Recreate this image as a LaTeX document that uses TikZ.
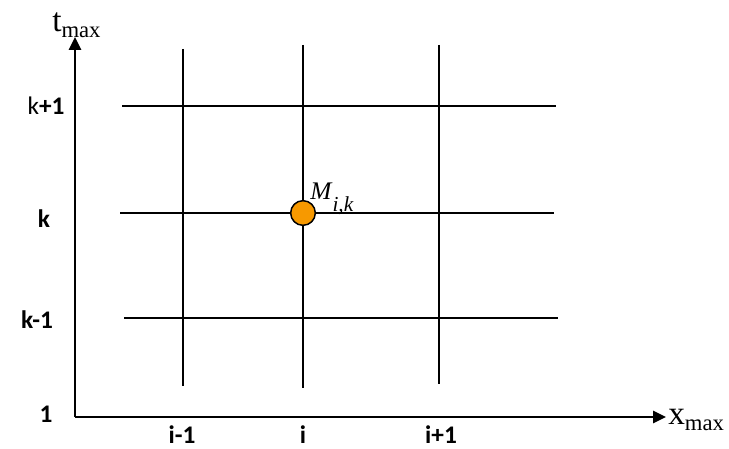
\documentclass[tikz,border=0pt]{standalone}
\usepackage{fontspec}
\setmainfont{Liberation Serif}
\newfontfamily\lblfont{Carlito}
\usetikzlibrary{arrows.meta}

\begin{document}
\begin{tikzpicture}[x=0.75pt,y=-0.75pt]
\tikzset{
  gridline/.style={draw=black,line width=1.1pt},
  axisline/.style={draw=black,line width=1.4pt,-{Triangle[length=3.4mm,width=3.2mm]}},
  ticklabel/.style={font=\lblfont\bfseries\fontsize{19}{22}\selectfont,inner sep=0pt},
  axislabel/.style={font=\fontsize{25}{28}\selectfont,inner sep=0pt},
  meshpoint/.style={circle,draw=black,line width=1.1pt,fill=pointfill,minimum size=18.5pt,inner sep=0pt}
}
\definecolor{pointfill}{RGB}{247,153,0}
\useasboundingbox (0,0) rectangle (729,449);
% axes
\coordinate (o) at (75,417);
\coordinate (t_end) at (75,37);
\coordinate (x_end) at (666,417);
\draw[axisline] (o) -- (t_end);
\draw[axisline] (o) -- (x_end);
\node[axislabel,anchor=base west] (n_t) at (52,32) {t\raisebox{-4.5pt}{\fontsize{17}{20}\selectfont max}};
\node[axislabel,anchor=base west] (n_x) at (668,424) {x\raisebox{-4.5pt}{\fontsize{17}{20}\selectfont max}};
% grid lines
\coordinate (v1_top) at (183,49);
\coordinate (v1_bot) at (183,386);
\coordinate (v2_top) at (303,45);
\coordinate (v2_bot) at (303,388);
\coordinate (v3_top) at (439,45);
\coordinate (v3_bot) at (439,384);
\coordinate (h1_l) at (122,106);
\coordinate (h1_r) at (556,106);
\coordinate (h2_l) at (120,213);
\coordinate (h2_r) at (554,213);
\coordinate (h3_l) at (124,318);
\coordinate (h3_r) at (558,318);
\draw[gridline] (v1_top) -- (v1_bot);
\draw[gridline] (v2_top) -- (v2_bot);
\draw[gridline] (v3_top) -- (v3_bot);
\draw[gridline] (h1_l) -- (h1_r);
\draw[gridline] (h2_l) -- (h2_r);
\draw[gridline] (h3_l) -- (h3_r);
% point
\node[meshpoint] (n_M) at (303,213) {};
\node[font=\fontsize{19}{21}\selectfont,inner sep=0pt,anchor=base west] (n_Mlbl) at (310,200) {\textit{M}\raisebox{-9pt}{\fontsize{16}{18}\selectfont\textit{i,k}}};
% labels
\node[ticklabel] (n_k1) at (46,106) {\mdseries k\bfseries+1};
\node[ticklabel] (n_k) at (44,219) {k};
\node[ticklabel] (n_km1) at (37,320) {k-1};
\node[ticklabel] (n_one) at (46,414) {1};
\node[ticklabel] (n_i1) at (182,435) {i-1};
\node[ticklabel] (n_i) at (303,435) {i};
\node[ticklabel] (n_ip1) at (441,435) {i+1};
\end{tikzpicture}
\end{document}
